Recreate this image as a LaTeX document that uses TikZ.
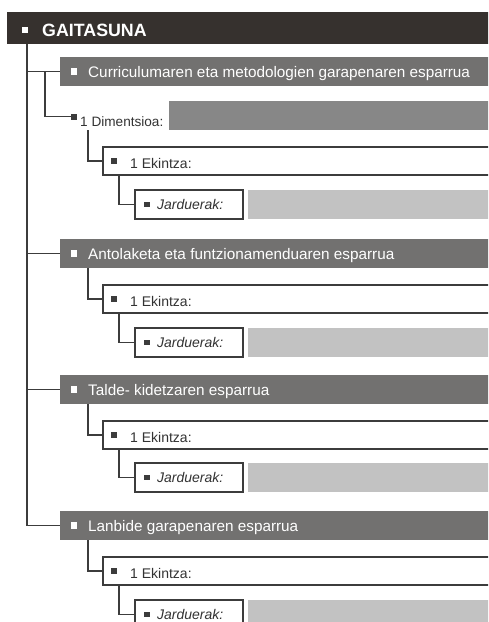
\documentclass[tikz,border=0pt]{standalone}
\usepackage{fontspec}
\setmainfont{Liberation Sans}
\definecolor{darkbar}{HTML}{36312E}
\definecolor{midbar}{HTML}{727170}
\definecolor{dimbox}{HTML}{878787}
\definecolor{lightbox}{HTML}{C2C2C2}
\definecolor{linec}{HTML}{3C3C3C}
\tikzset{
  conn/.style={draw=linec, line width=1.3pt},
  area/.style={anchor=north west, inner sep=0pt, outer sep=0pt},
  barbox/.style={area, fill=midbar, minimum width=440pt, minimum height=29pt},
  ekbox/.style={area, fill=white, draw=linec, line width=1.4pt, minimum width=400pt, minimum height=28pt},
  jabox/.style={area, fill=white, draw=linec, line width=1.4pt, minimum width=108pt, minimum height=29pt},
  ltbox/.style={area, fill=lightbox, minimum width=250pt, minimum height=29pt},
  wsq/.style={fill=white, inner sep=0pt, minimum size=6.5pt},
  bsq/.style={fill=linec, inner sep=0pt, minimum size=6pt},
  bsqs/.style={fill=linec, inner sep=0pt, minimum size=5.5pt},
  bartxt/.style={anchor=base west, inner sep=0pt, text=white, font=\fontsize{15.3}{18}\selectfont},
  smtxt/.style={anchor=base west, inner sep=0pt, text=black!80, font=\fontsize{14}{17}\selectfont},
  ittxt/.style={anchor=base west, inner sep=0pt, text=black!80, font=\fontsize{14}{17}\selectfont\itshape},
}
\begin{document}
\begin{tikzpicture}[x=1pt,y=-1pt]
\useasboundingbox (0,0) rectangle (488,622);
\clip (0,0) rectangle (488,622);
\fill[white] (0,0) rectangle (488,622);

% title bar
\node[area, fill=darkbar, minimum width=490pt, minimum height=32pt] (top) at (7,12) {};
\node[wsq] (q0) at (25,30) {};
\node[anchor=base west, inner sep=0pt, text=white, font=\fontsize{17.8}{20}\selectfont\bfseries] (t0) at (42,36.5) {GAITASUNA};

% section bars
\node[barbox] (b1) at (60,57) {};
\node[barbox] (b2) at (60,239) {};
\node[barbox] (b3) at (60,375) {};
\node[barbox] (b4) at (60,511) {};
\node[wsq] (q1) at (74,71.5) {};
\node[wsq] (q2) at (74,253.5) {};
\node[wsq] (q3) at (74,389.5) {};
\node[wsq] (q4) at (74,525.5) {};
\node[bartxt] (t1) at (88,77.5) {Curriculumaren eta metodologien garapenaren esparrua};
\node[bartxt] (t2) at (88,259.5) {Antolaketa eta funtzionamenduaren esparrua};
\node[bartxt] (t3) at (88,395.5) {Talde- kidetzaren esparrua};
\node[bartxt] (t4) at (88,531.5) {Lanbide garapenaren esparrua};

% dimentsioa
\node[bsq] (dq) at (74,116.5) {};
\node[smtxt, font=\fontsize{13.6}{16}\selectfont] (dt) at (80,126) {1 Dimentsioa:};
\node[area, fill=dimbox, minimum width=330pt, minimum height=29pt] (db) at (169,101) {};

% ekintza boxes
\node[ekbox] (e1) at (103,147) {};
\node[ekbox] (e2) at (103,285) {};
\node[ekbox] (e3) at (103,421) {};
\node[ekbox] (e4) at (103,557) {};
\foreach \i in {1,2,3,4}{
  \node[bsq] (eq\i) at ([xshift=11pt]e\i.west) {};
  \node[smtxt] (et\i) at ([xshift=27pt,yshift=-7pt]e\i.west) {1 Ekintza:};
}

% jarduerak boxes
\node[jabox] (j1) at (135,190) {};
\node[jabox] (j2) at (135,328) {};
\node[jabox] (j3) at (135,463) {};
\node[jabox] (j4) at (135,600) {};
\node[ltbox] (l1) at (248,190) {};
\node[ltbox] (l2) at (248,328) {};
\node[ltbox] (l3) at (248,463) {};
\node[ltbox] (l4) at (248,600) {};
\foreach \i in {1,2,3,4}{
  \node[bsqs] (jq\i) at ([xshift=12pt]j\i.west) {};
  \node[ittxt] (jt\i) at ([xshift=22pt,yshift=-5pt]j\i.west) {Jarduerak:};
}

% connectors
\coordinate (trunk) at (27,525.5);
\draw[conn] (trunk |- top.south) -- (trunk);
\foreach \i in {1,2,3,4}{
  \draw[conn] (trunk |- b\i.west) -- (b\i.west);
}
\coordinate (dx) at (45,0);
\draw[conn] (dx |- b1.west) -- (dx |- dq.west) -- (dq.west);
\coordinate (ex) at (88,0);
\draw[conn] (ex |- db.south) -- (ex |- e1.west) -- (e1.west);
\foreach \i in {2,3,4}{
  \draw[conn] (ex |- b\i.south) -- (ex |- e\i.west) -- (e\i.west);
}
\coordinate (jx) at (119,0);
\foreach \i in {1,2,3,4}{
  \draw[conn] (jx |- e\i.south) -- (jx |- j\i.west) -- (j\i.west);
}
\end{tikzpicture}
\end{document}
